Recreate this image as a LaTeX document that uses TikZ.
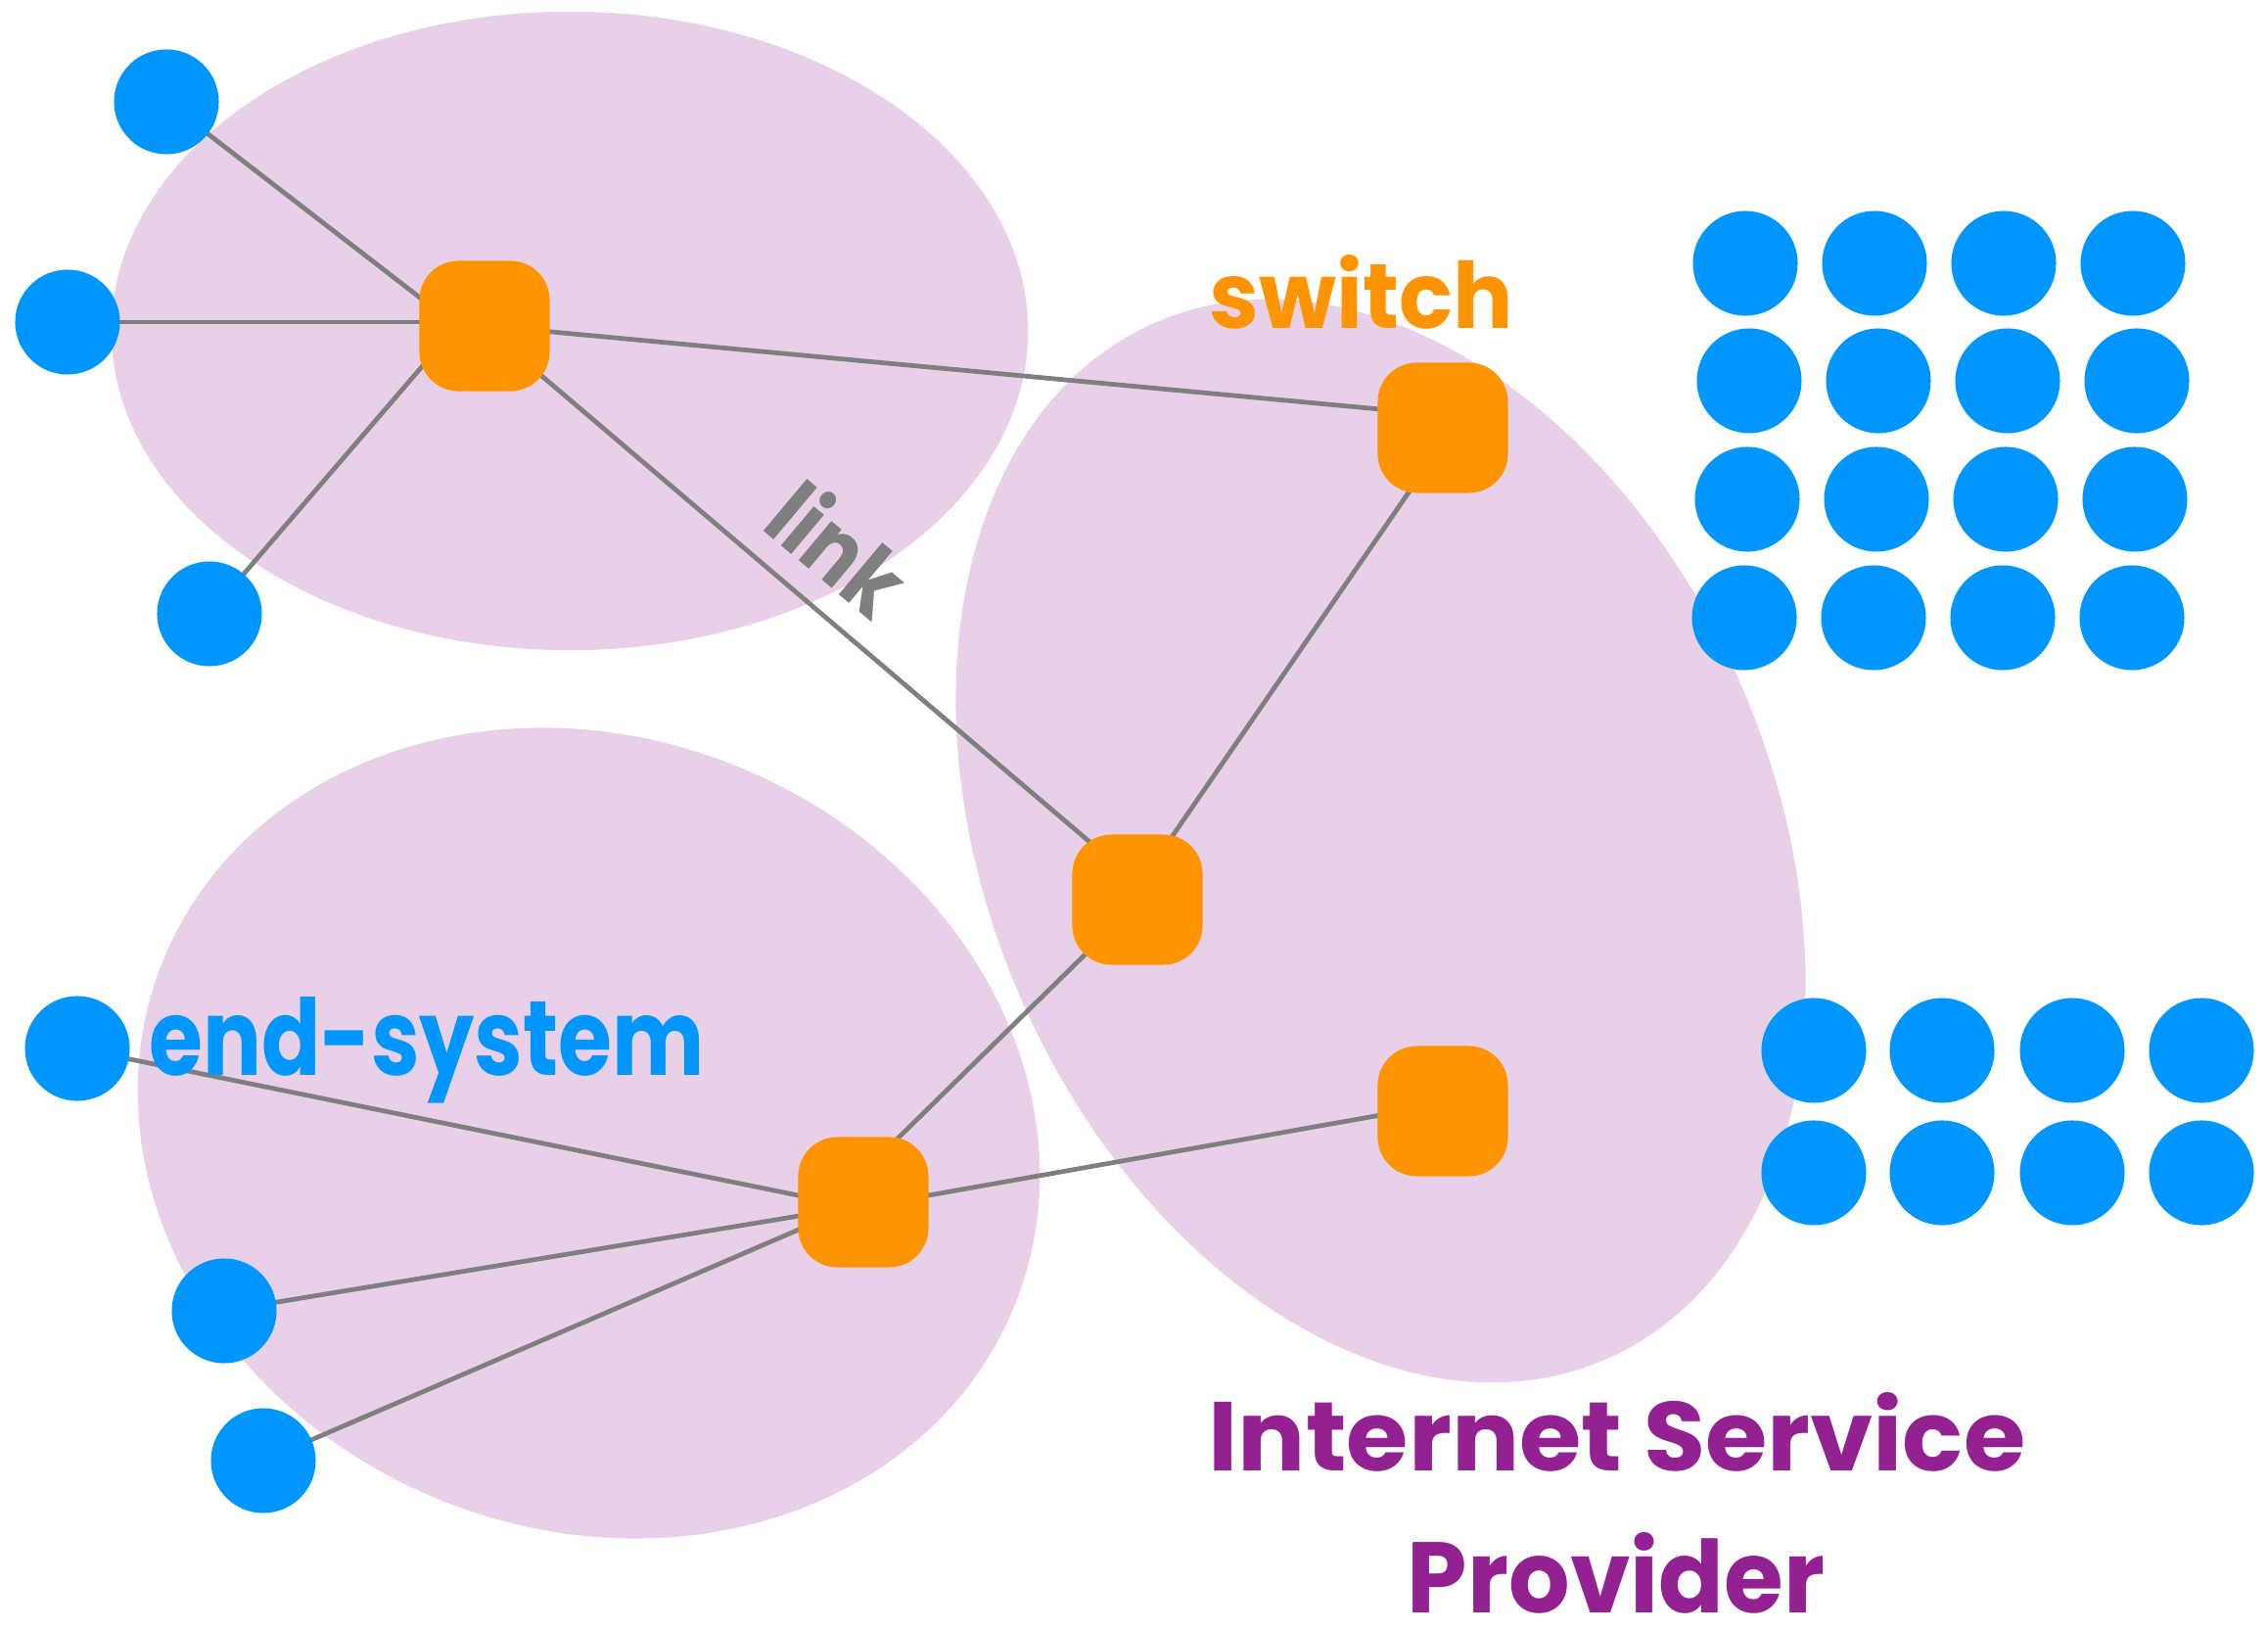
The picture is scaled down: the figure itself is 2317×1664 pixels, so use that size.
\documentclass[tikz,border=0pt]{standalone}
\usepackage{fontspec}
\setmainfont{Poppins}
\usepackage{graphicx}
\definecolor{cloudc}{RGB}{232,209,232}
\definecolor{esblue}{RGB}{0,150,255}
\definecolor{swor}{RGB}{255,147,0}
\definecolor{lnkgray}{RGB}{127,127,127}
\definecolor{ispc}{RGB}{148,33,146}
\pgfdeclarelayer{bg}
\pgfsetlayers{bg,main}
\begin{document}
\begin{tikzpicture}[x=0.01cm,y=-0.01cm,
  endsys/.style={circle, fill=esblue, minimum size=1.07cm, inner sep=0pt},
  switchbox/.style={rectangle, rounded corners=0.4cm, fill=swor, minimum size=1.33cm, inner sep=0pt},
  lnk/.style={draw=lnkgray, line width=1.35pt, shorten <=-0.25cm, shorten >=-0.25cm},
  cloud/.style={fill=cloudc},
  lbl/.style={inner sep=0pt, anchor=base, font=\bfseries}]
\useasboundingbox (0,0) rectangle (2317,1664);
% switches
\node[switchbox] (s1) at (495,333) {};
\node[switchbox] (s2) at (1474,437) {};
\node[switchbox] (s3) at (1162,919) {};
\node[switchbox] (s4) at (882,1228) {};
\node[switchbox] (s5) at (1474,1135) {};
% end systems
\node[endsys] (e1) at (170,104) {};
\node[endsys] (e2) at (69,329) {};
\node[endsys] (e3) at (214,627) {};
\node[endsys] (e4) at (79,1071) {};
\node[endsys] (e5) at (229,1339) {};
\node[endsys] (e6) at (269,1492) {};
% grid of end systems
\foreach \y/\dx [count=\r] in {269/0,389/4,510/2,631/-1} {
  \foreach \x [count=\c] in {1783,1915,2047,2179} {
    \node[endsys] (g\r\c) at (\x+\dx,\y) {};
  }
}
\foreach \y [count=\r] in {1073,1198} {
  \foreach \x [count=\c] in {1853,1984,2117,2249} {
    \node[endsys] (h\r\c) at (\x,\y) {};
  }
}
% labels
\node[lbl, text=swor] (lswitch) at (1391,336) {\resizebox{3.1cm}{0.75cm}{switch}};
\node[lbl, text=esblue] (lend) at (436,1098) {\resizebox{5.67cm}{0.80cm}{end-system}};
\node[inner sep=0pt, anchor=base west, rotate=-40, text=lnkgray, font=\bfseries] (llink) at (776,539) {\resizebox{1.5cm}{0.75cm}{link}};
\node[lbl, text=ispc] (lisp1) at (1652,1502) {\resizebox{8.34cm}{0.80cm}{Internet Service}};
\node[lbl, text=ispc] (lisp2) at (1651,1647) {\resizebox{4.26cm}{0.82cm}{Provider}};
\begin{pgfonlayer}{bg}
\fill[cloud] (582,338) ellipse [x radius=4.68cm, y radius=3.26cm];
\fill[cloud, rotate around={-22:(601.5,1157.5)}] (601.5,1157.5) ellipse [x radius=4.69cm, y radius=4.04cm];
\fill[cloud, rotate around={-66.5:(1410.5,859)}] (1410.5,859) ellipse [x radius=5.77cm, y radius=4.01cm];
\draw[lnk] (e1) -- (s1.156);
\draw[lnk] (e2) -- (e2 -| s1.west);
\draw[lnk] (e3) -- (s1.214);
\draw[lnk] (s1.355) -- (s2.164);
\draw[lnk] (s1.319) -- (s3.131);
\draw[lnk] (s2.242.4) -- (s3.61.7);
\draw[lnk] (s3.226.6) -- (s4.61);
\draw[lnk] (e4) -- (s4.174);
\draw[lnk] (e5) -- (s4.192);
\draw[lnk] (e6) -- (s4.203);
\draw[lnk] (s4.6) -- (s5.184);
\end{pgfonlayer}
\end{tikzpicture}
\end{document}
